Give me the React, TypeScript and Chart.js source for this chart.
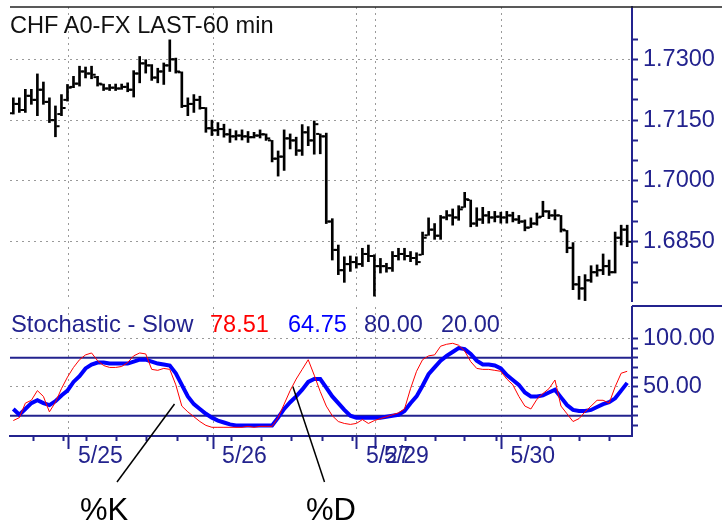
import React, { useEffect, useRef } from 'react';
import { Chart, registerables } from 'chart.js';

Chart.register(...registerables);

// ---------- DATA ----------
const highs = [
  1.7205, 1.7205, 1.7226, 1.7226, 1.7264, 1.7244, 1.7205, 1.7185, 1.7213, 1.7238,
  1.7258, 1.7283, 1.7281, 1.7283, 1.7258, 1.7239, 1.7238, 1.7239, 1.7239, 1.7242,
  1.7272, 1.7307, 1.7299, 1.7287, 1.7278, 1.7291, 1.7348, 1.7303, 1.7269, 1.7205,
  1.7213, 1.7209, 1.7181, 1.7150, 1.7144, 1.7140, 1.7128, 1.7124, 1.7126, 1.7122,
  1.7120, 1.7126, 1.7116, 1.7100, 1.7074, 1.7126, 1.7116, 1.7108, 1.7139, 1.7134,
  1.7148, 1.7116, 1.7118, 1.6907, 1.6842, 1.6813, 1.6815, 1.6813, 1.6834, 1.6842,
  1.6818, 1.6809, 1.6797, 1.6826, 1.6834, 1.6834, 1.6826, 1.6823, 1.6874, 1.6909,
  1.6895, 1.6915, 1.6927, 1.6931, 1.6939, 1.6972, 1.6953, 1.6934, 1.6935, 1.6925,
  1.6925, 1.6923, 1.6925, 1.6923, 1.6915, 1.6904, 1.6909, 1.6921, 1.6950, 1.6927,
  1.6929, 1.6915, 1.6878, 1.6848, 1.6765, 1.6769, 1.6791, 1.6793, 1.6820, 1.6805,
  1.6874, 1.6891, 1.6891,
];
const lows = [
  1.7165, 1.7169, 1.7169, 1.7189, 1.7161, 1.7189, 1.7144, 1.7109, 1.7161, 1.7197,
  1.7230, 1.7234, 1.7254, 1.7252, 1.7234, 1.7223, 1.7223, 1.7223, 1.7226, 1.7220,
  1.7207, 1.7242, 1.7266, 1.7248, 1.7242, 1.7238, 1.7270, 1.7266, 1.7181, 1.7161,
  1.7169, 1.7177, 1.7120, 1.7112, 1.7112, 1.7108, 1.7095, 1.7101, 1.7101, 1.7095,
  1.7106, 1.7106, 1.7100, 1.7047, 1.7012, 1.7026, 1.7079, 1.7063, 1.7063, 1.7087,
  1.7066, 1.7067, 1.6895, 1.6805, 1.6769, 1.6750, 1.6777, 1.6785, 1.6789, 1.6801,
  1.6716, 1.6773, 1.6775, 1.6777, 1.6805, 1.6805, 1.6801, 1.6793, 1.6818, 1.6866,
  1.6856, 1.6856, 1.6904, 1.6891, 1.6903, 1.6935, 1.6887, 1.6888, 1.6895, 1.6896,
  1.6899, 1.6896, 1.6896, 1.6899, 1.6895, 1.6877, 1.6885, 1.6891, 1.6912, 1.6907,
  1.6904, 1.6874, 1.6823, 1.6732, 1.6708, 1.6705, 1.6750, 1.6765, 1.6769, 1.6767,
  1.6773, 1.6842, 1.6838,
];
const opens = [
  1.7167, 1.7190, 1.7175, 1.7210, 1.7200, 1.7225, 1.7195, 1.7150, 1.7165, 1.7200,
  1.7232, 1.7240, 1.7270, 1.7265, 1.7256, 1.7238, 1.7228, 1.7230, 1.7228, 1.7232,
  1.7225, 1.7265, 1.7290, 1.7285, 1.7255, 1.7270, 1.7285, 1.7300, 1.7268, 1.7185,
  1.7190, 1.7200, 1.7180, 1.7130, 1.7125, 1.7128, 1.7115, 1.7110, 1.7112, 1.7110,
  1.7108, 1.7112, 1.7115, 1.7100, 1.7055, 1.7060, 1.7105, 1.7100, 1.7075, 1.7120,
  1.7100, 1.7116, 1.7110, 1.6900, 1.6830, 1.6780, 1.6795, 1.6800, 1.6795, 1.6820,
  1.6815, 1.6790, 1.6790, 1.6785, 1.6815, 1.6820, 1.6815, 1.6810, 1.6818, 1.6866,
  1.6880, 1.6865, 1.6910, 1.6915, 1.6910, 1.6935, 1.6953, 1.6895, 1.6905, 1.6915,
  1.6910, 1.6912, 1.6910, 1.6915, 1.6905, 1.6900, 1.6885, 1.6895, 1.6912, 1.6925,
  1.6915, 1.6915, 1.6878, 1.6835, 1.6745, 1.6735, 1.6755, 1.6775, 1.6780, 1.6790,
  1.6775, 1.6860, 1.6880,
];
const closes = [
  1.7190, 1.7175, 1.7210, 1.7200, 1.7225, 1.7195, 1.7150, 1.7135, 1.7180, 1.7230,
  1.7240, 1.7270, 1.7265, 1.7262, 1.7240, 1.7228, 1.7230, 1.7228, 1.7232, 1.7225,
  1.7265, 1.7290, 1.7285, 1.7255, 1.7270, 1.7285, 1.7300, 1.7270, 1.7185, 1.7190,
  1.7200, 1.7180, 1.7130, 1.7125, 1.7128, 1.7115, 1.7110, 1.7112, 1.7110, 1.7108,
  1.7112, 1.7115, 1.7105, 1.7055, 1.7060, 1.7105, 1.7100, 1.7075, 1.7120, 1.7100,
  1.7140, 1.7110, 1.6900, 1.6830, 1.6780, 1.6795, 1.6800, 1.6795, 1.6820, 1.6815,
  1.6790, 1.6790, 1.6785, 1.6815, 1.6820, 1.6815, 1.6810, 1.6800, 1.6860, 1.6880,
  1.6865, 1.6910, 1.6915, 1.6910, 1.6930, 1.6955, 1.6895, 1.6905, 1.6915, 1.6910,
  1.6912, 1.6910, 1.6915, 1.6905, 1.6900, 1.6885, 1.6895, 1.6910, 1.6925, 1.6915,
  1.6915, 1.6880, 1.6835, 1.6745, 1.6735, 1.6755, 1.6775, 1.6780, 1.6790, 1.6775,
  1.6860, 1.6880, 1.6850,
];

// Stochastic Slow %K (red) and %D (blue)
const kValues = [
  15, 18, 33, 36, 46, 40, 24, 34, 48, 60,
  70, 78, 83, 85, 77, 72, 70, 70, 71, 75,
  82, 85, 84, 68, 67, 69, 68, 52, 30, 24,
  19, 14, 10, 8, 8, 8, 8, 8, 8, 9,
  8, 9, 9, 9, 18, 32, 46, 58, 68, 78,
  62, 45, 30, 20, 14, 12, 11, 12, 16, 12,
  15, 17, 19, 21, 23, 27, 48, 66, 78, 82,
  83, 92, 94, 95, 93, 87, 76, 69, 68, 68,
  67, 66, 58, 52, 40, 30, 27, 37, 43, 48,
  57, 30, 22, 14, 17, 24, 30, 36, 36, 33,
  50, 64, 66,
];
const dValues = [
  27, 21, 27, 33, 36, 33, 31, 35, 41, 46,
  55, 61, 69, 73, 75, 75, 74, 74, 74, 74,
  76, 78, 78, 76, 74, 73, 72, 64, 52, 40,
  32, 27, 22, 18, 15, 13, 11, 10, 10, 10,
  10, 10, 10, 10, 18, 27, 34, 40, 47, 55,
  58, 58, 49, 40, 33, 26, 20, 18, 18, 18,
  18, 18, 19, 20, 21, 25, 33, 40, 51, 63,
  70, 77, 82, 86, 90, 89, 84, 77, 73, 73,
  72, 69, 62, 57, 52, 44, 40, 40, 41, 44,
  47, 39, 31, 26, 25, 25, 26, 29, 32, 34,
  38, 46, 54,
];
const overbought = 80;
const oversold = 20;

const dayLabels = ['5/25', '5/26', '5/27', '5/29', '5/30'];
const dayStarts = [9.25, 33.2, 57.1, 60.1, 81.1];
const minorTicks = [3.3, 8.3, 12.2, 17.2, 22.2, 27.2, 32.2, 36.3, 41.3, 46.3, 51.3, 56.3, 65.1, 70.1, 75.0, 80.3, 84.2, 89.2, 94.1, 99.1];
const priceTicks = [1.675, 1.68, 1.685, 1.69, 1.695, 1.7, 1.705, 1.71, 1.715, 1.72, 1.725, 1.73, 1.735];
const priceLabels = [1.685, 1.7, 1.715, 1.73];
const stochTicks = [10, 20, 30, 40, 50, 60, 70, 80, 90, 100];
const stochLabels = [50, 100];
const legendValues = ['78.51', '64.75', '80.00', '20.00'];

// ---------- STYLE ----------
const X_MIN = -0.55;
const X_MAX = 102.8;
const NAVY = '#23238e';
const GRID = '#9a9a9a';
const FONT = 'Liberation Sans, Arial, sans-serif';

const near = (v: number, arr: number[]) => arr.some((a) => Math.abs(a - v) < 1e-6);

export default function App() {
  const topRef = useRef<HTMLCanvasElement>(null);
  const botRef = useRef<HTMLCanvasElement>(null);

  useEffect(() => {
    const priceChart = new Chart(topRef.current as HTMLCanvasElement, {
      type: 'bar',
      data: {
        datasets: [
          {
            type: 'bar',
            data: highs.map((h, i) => ({ x: i, y: [lows[i], h] })) as any,
            backgroundColor: '#000000',
            barThickness: 2,
          } as any,
          {
            type: 'scatter',
            data: opens.map((o, i) => ({ x: i - 0.42, y: o })),
            pointStyle: 'line',
            pointRadius: 1.6,
            pointBorderWidth: 2,
            pointBorderColor: '#000000',
            borderColor: '#000000',
          } as any,
          {
            type: 'scatter',
            data: closes.map((c, i) => ({ x: i + 0.42, y: c })),
            pointStyle: 'line',
            pointRadius: 1.6,
            pointBorderWidth: 2,
            pointBorderColor: '#000000',
            borderColor: '#000000',
          } as any,
        ],
      },
      options: {
        responsive: false,
        animation: false,
        layout: { padding: { left: 10, top: 7, right: 0, bottom: 2 } },
        plugins: { legend: { display: false }, tooltip: { enabled: false } },
        scales: {
          x: {
            type: 'linear',
            position: 'bottom',
            offset: false,
            min: X_MIN,
            max: X_MAX,
            afterBuildTicks: (s: any) => {
              s.ticks = dayStarts.map((v) => ({ value: v }));
            },
            afterFit: (s: any) => {
              s.height = 0;
              s.paddingLeft = 0;
              s.paddingRight = 0;
            },
            ticks: { display: false },
            grid: { color: GRID, lineWidth: 1, drawTicks: false, offset: false },
            border: { display: false, dash: [2, 4] },
          },
          y: {
            type: 'linear',
            position: 'right',
            min: 1.6704,
            max: 1.7429,
            afterBuildTicks: (s: any) => {
              s.ticks = priceTicks.map((v) => ({ value: v }));
            },
            afterFit: (s: any) => {
              s.width = 90;
              s.paddingTop = 0;
              s.paddingBottom = 0;
            },
            ticks: {
              autoSkip: false,
              padding: 5,
              color: NAVY,
              font: { family: FONT, size: 23.5 },
              callback: (v: any) => (near(Number(v), priceLabels) ? Number(v).toFixed(4) : ''),
            },
            grid: {
              color: (ctx: any) => (ctx.tick && near(ctx.tick.value, priceLabels) ? GRID : 'rgba(0,0,0,0)'),
              tickColor: NAVY,
              tickLength: 6,
              tickWidth: 2,
              lineWidth: 1,
            },
            border: { color: NAVY, width: 2, dash: [2, 4] },
          },
        },
      } as any,
    });

    const stochChart = new Chart(botRef.current as HTMLCanvasElement, {
      type: 'line',
      data: {
        datasets: [
          {
            data: kValues.map((v, i) => ({ x: i, y: v })),
            borderColor: '#ff0000',
            borderWidth: 1,
            pointRadius: 0,
            tension: 0,
          },
          {
            data: dValues.map((v, i) => ({ x: i, y: v })),
            borderColor: '#0000ff',
            borderWidth: 4,
            pointRadius: 0,
            tension: 0,
          },
          {
            data: [{ x: X_MIN, y: overbought }, { x: X_MAX, y: overbought }],
            borderColor: NAVY,
            borderWidth: 2,
            pointRadius: 0,
          },
          {
            data: [{ x: X_MIN, y: oversold }, { x: X_MAX, y: oversold }],
            borderColor: NAVY,
            borderWidth: 2,
            pointRadius: 0,
          },
        ],
      },
      options: {
        responsive: false,
        animation: false,
        layout: { padding: { left: 10, top: 7, right: 0, bottom: 0 } },
        plugins: { legend: { display: false }, tooltip: { enabled: false } },
        scales: {
          xm: {
            type: 'linear',
            position: 'bottom',
            offset: false,
            min: X_MIN,
            max: X_MAX,
            afterBuildTicks: (s: any) => {
              s.ticks = minorTicks.map((v) => ({ value: v }));
            },
            afterFit: (s: any) => {
              s.height = 0;
              s.paddingLeft = 0;
              s.paddingRight = 0;
            },
            ticks: { display: false },
            grid: { drawOnChartArea: false, tickLength: 5, tickColor: NAVY, tickWidth: 2 },
            border: { display: false },
          },
          x: {
            type: 'linear',
            position: 'bottom',
            offset: false,
            min: X_MIN,
            max: X_MAX,
            afterBuildTicks: (s: any) => {
              s.ticks = dayStarts.map((v) => ({ value: v }));
            },
            afterFit: (s: any) => {
              s.height = 86;
              s.paddingLeft = 0;
              s.paddingRight = 0;
            },
            ticks: {
              autoSkip: false,
              maxRotation: 0,
              minRotation: 0,
              align: 'start',
              labelOffset: 9,
              padding: -4,
              color: NAVY,
              font: { family: FONT, size: 23, lineHeight: 1 },
              callback: (v: any) => {
                const idx = dayStarts.findIndex((d) => Math.abs(d - Number(v)) < 1e-6);
                return idx >= 0 ? dayLabels[idx] : '';
              },
            },
            grid: { color: GRID, lineWidth: 1, tickColor: NAVY, tickLength: 13, tickWidth: 2 },
            border: { color: NAVY, width: 2, dash: [2, 4] },
          },
          y: {
            type: 'linear',
            position: 'right',
            min: -1,
            max: 132.6,
            afterBuildTicks: (s: any) => {
              s.ticks = stochTicks.map((v) => ({ value: v }));
            },
            afterFit: (s: any) => {
              s.width = 90;
              s.paddingTop = 0;
              s.paddingBottom = 0;
            },
            ticks: {
              autoSkip: false,
              padding: 5,
              color: NAVY,
              font: { family: FONT, size: 23.5 },
              callback: (v: any) => (near(Number(v), stochLabels) ? Number(v).toFixed(2) : ''),
            },
            grid: {
              color: (ctx: any) => (ctx.tick && near(ctx.tick.value, stochLabels) ? GRID : 'rgba(0,0,0,0)'),
              tickColor: NAVY,
              tickLength: 6,
              tickWidth: 2,
              lineWidth: 1,
            },
            border: { color: NAVY, width: 2, dash: [2, 4] },
          },
        },
      } as any,
    });

    return () => {
      priceChart.destroy();
      stochChart.destroy();
    };
  }, []);

  return (
    <div style={{ position: 'absolute', left: 0, top: 0, width: 722, height: 522, background: '#ffffff', overflow: 'hidden' }}>
      <canvas ref={topRef} width={722} height={307} style={{ position: 'absolute', left: 0, top: 0, width: 722, height: 307 }} />
      <canvas ref={botRef} width={722} height={222} style={{ position: 'absolute', left: 0, top: 300, width: 722, height: 222 }} />
      <svg width={722} height={522} style={{ position: 'absolute', left: 0, top: 0, pointerEvents: 'none' }}>
        <line x1={10} y1={7} x2={722} y2={7} stroke="#222222" strokeWidth={1.5} />
        <line x1={632} y1={306} x2={722} y2={306} stroke={NAVY} strokeWidth={2} />
        <text x={10} y={33} fontFamily={FONT} fontSize={23.6} fill="#111111">CHF A0-FX LAST-60 min</text>
        <text x={11} y={332} fontFamily={FONT} fontSize={23.8} fill={NAVY}>Stochastic - Slow</text>
        <text x={210} y={332} fontFamily={FONT} fontSize={23.5} fill="#ff0000">{legendValues[0]}</text>
        <text x={288} y={332} fontFamily={FONT} fontSize={23.5} fill="#0000ff">{legendValues[1]}</text>
        <text x={364} y={332} fontFamily={FONT} fontSize={23.5} fill={NAVY}>{legendValues[2]}</text>
        <text x={441} y={332} fontFamily={FONT} fontSize={23.5} fill={NAVY}>{legendValues[3]}</text>
        <line x1={174.5} y1={404} x2={117} y2={482} stroke="#000000" strokeWidth={1.5} />
        <line x1={293} y1={387} x2={324.5} y2={482} stroke="#000000" strokeWidth={1.5} />
        <text x={80} y={520} fontFamily={FONT} fontSize={31} fill="#000000">%K</text>
        <text x={306} y={520} fontFamily={FONT} fontSize={31} fill="#000000">%D</text>
      </svg>
    </div>
  );
}
